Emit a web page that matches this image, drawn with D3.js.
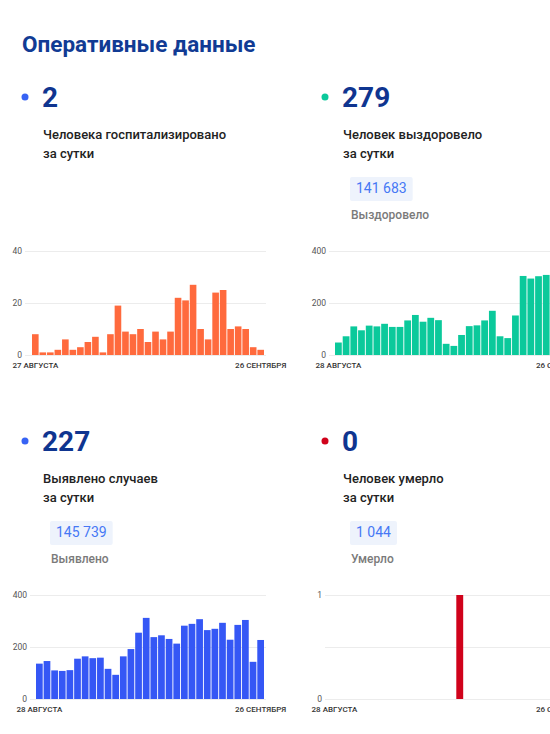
<!DOCTYPE html>
<html lang="ru">
<head>
<meta charset="utf-8">
<title>Оперативные данные</title>
<script src="https://d3js.org/d3.v7.min.js"></script>
<style>
  body { margin: 0; background: #fff; overflow: hidden; }
  svg { display: block; font-family: Roboto, "Noto Sans", sans-serif; }
</style>
</head>
<body>
<script>
// values
var hospitalized = [8, 1, 1, 2, 6, 2, 3, 5, 7, 1, 8, 19, 9, 8, 10, 5, 9, 6, 9, 22, 21, 27, 10, 6, 24, 25, 10, 11, 10, 3, 2];
var recovered = [48, 72, 110, 95, 113, 110, 120, 108, 108, 133, 154, 128, 143, 134, 43, 35, 77, 111, 114, 133, 170, 72, 65, 152, 304, 294, 303, 308, 200, 279];
var cases = [136, 146, 110, 108, 111, 155, 164, 157, 159, 116, 93, 164, 192, 255, 312, 238, 245, 231, 213, 282, 289, 307, 265, 270, 293, 228, 285, 304, 143, 227];
var deaths = [0, 0, 0, 0, 0, 0, 0, 0, 0, 0, 0, 0, 0, 0, 0, 0, 1, 0, 0, 0, 0, 0, 0, 0, 0, 0, 0, 0, 0, 0];

var headlines = ["2", "279", "227", "0"];
var captions = ["Человека госпитализировано", "Человек выздоровело", "Выявлено случаев", "Человек умерло"];
var totals = [null, "141 683", "145 739", "1 044"];
var totalLabels = [null, "Выздоровело", "Выявлено", "Умерло"];
var startLabels = ["27 АВГУСТА", "28 АВГУСТА", "28 АВГУСТА", "28 АВГУСТА"];
var endLabel = "26 СЕНТЯБРЯ";
var yTicks = [[0, 20, 40], [0, 200, 400], [0, 200, 400], [0, 0.5, 1]];
var yMax = [40, 400, 400, 1];

var w = 550, h = 734;
var svg = d3.select("body").append("svg").attr("width", w).attr("height", h);

svg.append("text")
  .attr("x", 22).attr("y", 52)
  .attr("font-size", "22.5px").attr("font-weight", "bold")
  .attr("fill", "#113b94")
  .text("Оперативные данные");

// card layout
var cards = [
  { data: hospitalized, color: "#ff6a3d", dot: "#3763f4", ox: 0, oy: 0, lab: 22, grid: 25, x0: 32, x1: 264 },
  { data: recovered, color: "#0bc99b", dot: "#0bc99b", ox: 300, oy: 0, lab: 326, grid: 329, x0: 335, x1: 565 },
  { data: cases, color: "#3557f5", dot: "#3763f4", ox: 0, oy: 344, lab: 27, grid: 30, x0: 36, x1: 264 },
  { data: deaths, color: "#d0021b", dot: "#d0021b", ox: 300, oy: 344, lab: 322, grid: 325, x0: 331, x1: 565 }
];

cards.forEach(function(c, i) {
  var g = svg.append("g");

  g.append("circle")
    .attr("cx", 25 + c.ox).attr("cy", 97 + c.oy).attr("r", 3.5)
    .attr("fill", c.dot);

  g.append("text")
    .attr("x", 42 + c.ox).attr("y", 107 + c.oy)
    .attr("font-size", "28px").attr("font-weight", "bold")
    .attr("fill", "#0f3590")
    .text(headlines[i]);

  g.append("text")
    .attr("x", 43 + c.ox).attr("y", 139 + c.oy)
    .attr("font-size", "13px").attr("font-weight", 500)
    .attr("fill", "#222")
    .text(captions[i]);
  g.append("text")
    .attr("x", 43 + c.ox).attr("y", 158 + c.oy)
    .attr("font-size", "13px").attr("font-weight", 500)
    .attr("fill", "#222")
    .text("за сутки");

  if (totals[i]) {
    var bx = 50 + c.ox, by = 177 + c.oy;
    var badge = g.append("rect")
      .attr("x", bx).attr("y", by).attr("height", 24).attr("rx", 2)
      .attr("fill", "#eef3fc");
    var t = g.append("text")
      .attr("x", bx + 6).attr("y", by + 16)
      .attr("font-size", "14px")
      .attr("fill", "#4678f5")
      .text(totals[i]);
    badge.attr("width", t.node().getComputedTextLength() + 12);
    g.append("text")
      .attr("x", bx + 1).attr("y", 219 + c.oy)
      .attr("font-size", "12px").attr("font-weight", 500)
      .attr("fill", "#7a7a7a")
      .text(totalLabels[i]);
  }

  // chart
  var yTop = 251 + c.oy, yBot = 355 + c.oy;
  var x = d3.scaleBand()
    .domain(d3.range(c.data.length))
    .range([c.x0, c.x1])
    .paddingInner(0.12);
  var y = d3.scaleLinear().domain([0, yMax[i]]).range([yBot, yTop]);

  g.selectAll(".grid")
    .data(yTicks[i])
    .enter().append("line")
    .attr("x1", c.grid).attr("x2", c.x1 + 2)
    .attr("y1", function(d) { return y(d) + 0.5; })
    .attr("y2", function(d) { return y(d) + 0.5; })
    .attr("stroke", "#ececec").attr("stroke-width", 1);

  g.selectAll(".ylab")
    .data(yTicks[i].filter(function(d) { return d % 1 === 0 || yMax[i] > 1; }))
    .enter().append("text")
    .attr("x", c.lab).attr("y", function(d) { return y(d) + 3; })
    .attr("text-anchor", "end")
    .attr("font-size", "8.5px")
    .attr("fill", "#555")
    .text(function(d) { return d; });

  g.selectAll(".bar")
    .data(c.data)
    .enter().append("rect")
    .attr("x", function(d, j) { return x(j); })
    .attr("y", function(d) { return y(d); })
    .attr("width", x.bandwidth())
    .attr("height", function(d) { return yBot - y(d); })
    .attr("fill", c.color);

  var n = c.data.length;
  g.append("text")
    .attr("x", x(0) + x.bandwidth() / 2).attr("y", 368 + c.oy)
    .attr("text-anchor", "middle")
    .attr("font-size", "8px").attr("font-weight", 500)
    .attr("fill", "#333")
    .text(startLabels[i]);
  g.append("text")
    .attr("x", x(n - 1) + x.bandwidth() / 2).attr("y", 368 + c.oy)
    .attr("text-anchor", "middle")
    .attr("font-size", "8px").attr("font-weight", 500)
    .attr("fill", "#333")
    .text(endLabel);
});
</script>
</body>
</html>
